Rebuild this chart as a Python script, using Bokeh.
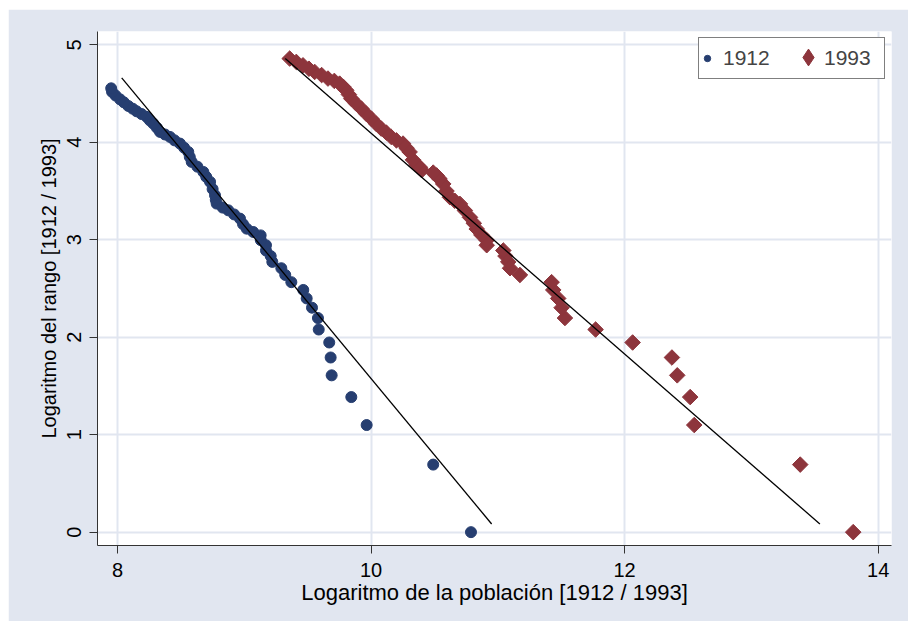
import math
from bokeh.plotting import figure
from bokeh.models import Range1d, FixedTicker, Legend, LegendItem
from bokeh.embed import file_html
from bokeh.resources import INLINE

# ---- data ----
x1912 = [10.788, 10.490, 9.965, 9.844, 9.689, 9.681, 9.670, 9.587, 9.581, 9.534,
         9.492, 9.465, 9.371, 9.323, 9.292, 9.221, 9.208, 9.171, 9.171, 9.130,
         9.129, 9.070, 9.019, 8.990, 8.966, 8.920, 8.874, 8.830, 8.782, 8.775,
         8.769, 8.750, 8.730, 8.700, 8.677, 8.630, 8.585, 8.570, 8.558, 8.525,
         8.493, 8.450, 8.414, 8.375, 8.335, 8.310, 8.282, 8.255, 8.230, 8.190,
         8.151, 8.120, 8.085, 8.050, 8.020, 7.985, 7.957, 7.950]
y1912 = [0.000, 0.693, 1.099, 1.386, 1.609, 1.792, 1.946, 2.079, 2.197, 2.303,
         2.398, 2.485, 2.565, 2.639, 2.708, 2.773, 2.833, 2.890, 2.944, 2.996,
         3.045, 3.080, 3.114, 3.160, 3.217, 3.260, 3.302, 3.330, 3.371, 3.410,
         3.456, 3.520, 3.594, 3.645, 3.696, 3.750, 3.799, 3.850, 3.901, 3.945,
         3.987, 4.020, 4.055, 4.080, 4.107, 4.150, 4.192, 4.225, 4.261, 4.290,
         4.318, 4.345, 4.373, 4.410, 4.441, 4.480, 4.517, 4.554]

x1993 = [13.803, 13.385, 12.549, 12.517, 12.415, 12.373, 12.063, 11.771, 11.529, 11.503,
         11.476, 11.437, 11.424, 11.174, 11.096, 11.082, 11.060, 11.043, 10.912, 10.912,
         10.870, 10.833, 10.810, 10.780, 10.740, 10.701, 10.660, 10.622, 10.595, 10.569,
         10.540, 10.517, 10.490, 10.400, 10.385, 10.360, 10.330, 10.304, 10.280, 10.252,
         10.200, 10.159, 10.120, 10.080, 10.040, 10.002, 9.960, 9.923, 9.880, 9.844,
         9.825, 9.804, 9.780, 9.752, 9.710, 9.660, 9.610, 9.555, 9.510, 9.463,
         9.410, 9.358]
y1993 = [0.000, 0.693, 1.099, 1.386, 1.609, 1.792, 1.946, 2.079, 2.197, 2.303,
         2.398, 2.485, 2.565, 2.639, 2.708, 2.773, 2.833, 2.890, 2.944, 2.996,
         3.050, 3.111, 3.170, 3.230, 3.300, 3.368, 3.400, 3.436, 3.500, 3.573,
         3.625, 3.660, 3.689, 3.714, 3.744, 3.770, 3.820, 3.901, 3.940, 3.987,
         4.020, 4.055, 4.100, 4.141, 4.190, 4.243, 4.295, 4.346, 4.400, 4.448,
         4.490, 4.534, 4.570, 4.602, 4.630, 4.654, 4.690, 4.722, 4.755, 4.790,
         4.825, 4.859]

fit1912_x = [8.033, 10.951]
fit1912_y = [4.661, 0.084]
fit1993_x = [9.323, 13.540]
fit1993_y = [4.859, 0.084]

x_ticks = [8, 10, 12, 14]
y_ticks = [0, 1, 2, 3, 4, 5]
series_labels = ["1912", "1993"]
x_label = "Logaritmo de la población [1912 / 1993]"
y_label = "Logaritmo del rango [1912 / 1993]"

# ---- style ----
BG = "#E1E6F0"
GRID = "#E1E6F0"
NAVY = "#263E70"
MAROON = "#8D353C"
FONT = "Liberation Sans"

p = figure(width=900, height=612, output_backend="svg", toolbar_location=None,
           x_range=Range1d(7.842, 14.105), y_range=Range1d(-0.137, 5.137),
           min_border_left=89, min_border_right=17, min_border_top=22,
           min_border_bottom=76)
p.margin = (9, 0, 0, 8)
p.border_fill_color = BG
p.background_fill_color = "white"
p.outline_line_color = None

for ax, ticks in ((p.xaxis, x_ticks), (p.yaxis, y_ticks)):
    ax.ticker = FixedTicker(ticks=ticks)
    ax.axis_line_color = "#333333"
    ax.axis_line_width = 1
    ax.major_tick_line_color = "#333333"
    ax.major_tick_in = 0
    ax.major_tick_out = 8
    ax.minor_tick_line_color = None
    ax.major_label_text_font = FONT
    ax.major_label_text_font_size = "20px"
    ax.major_label_text_color = "black"
    ax.axis_label_text_font = FONT
    ax.axis_label_text_font_style = "normal"
    ax.axis_label_text_color = "black"

p.xaxis.axis_label = x_label
p.yaxis.axis_label = y_label
p.xaxis.axis_label_text_font_size = "22px"
p.yaxis.axis_label_text_font_size = "20px"
p.xaxis.major_label_standoff = 9
p.yaxis.major_label_standoff = 8
p.xaxis.axis_label_standoff = 0
p.yaxis.axis_label_standoff = 5
p.yaxis.major_label_orientation = "vertical"

p.xgrid.ticker = FixedTicker(ticks=x_ticks)
p.ygrid.ticker = FixedTicker(ticks=y_ticks)
for g in (p.xgrid, p.ygrid):
    g.grid_line_color = GRID
    g.grid_line_width = 2

r1 = p.scatter(x1912, y1912, marker="circle", size=11, fill_color=NAVY, line_color=NAVY)
r2 = p.scatter(x1993, y1993, marker="square", angle=math.pi / 4, size=11,
               fill_color=MAROON, line_color=MAROON)
p.line(fit1912_x, fit1912_y, line_color="black", line_width=1.3)
p.line(fit1993_x, fit1993_y, line_color="black", line_width=1.3)

# legend key for 1993: a diamond marker (legend keys ignore marker angle)
key1993 = p.scatter([float("nan")], [float("nan")], marker="diamond",
                    fill_color=MAROON, line_color=MAROON)

# legend box with both entries; a larger diamond key is laid over the second entry
legend_a = Legend(items=[LegendItem(label=series_labels[0], renderers=[r1]),
                         LegendItem(label=series_labels[1], renderers=[key1993])],
                  orientation="horizontal", location="top_right",
                  border_line_color="black", border_line_width=1,
                  background_fill_color="white", background_fill_alpha=1.0,
                  label_text_font=FONT, label_text_font_size="21px",
                  padding=0, margin=6, spacing=17,
                  glyph_width=16, glyph_height=40, label_height=40,
                  label_width=60, label_standoff=8)
legend_b = Legend(items=[LegendItem(label="", renderers=[key1993])],
                  orientation="horizontal", location=(690, 467),
                  border_line_color=None, background_fill_alpha=0.0,
                  label_text_font=FONT, label_text_font_size="21px",
                  padding=0, margin=0, spacing=0,
                  glyph_width=42, glyph_height=42, label_height=42,
                  label_width=0, label_standoff=0)
p.add_layout(legend_a)
p.add_layout(legend_b)

open("out.html", "w").write(file_html(p, INLINE))
